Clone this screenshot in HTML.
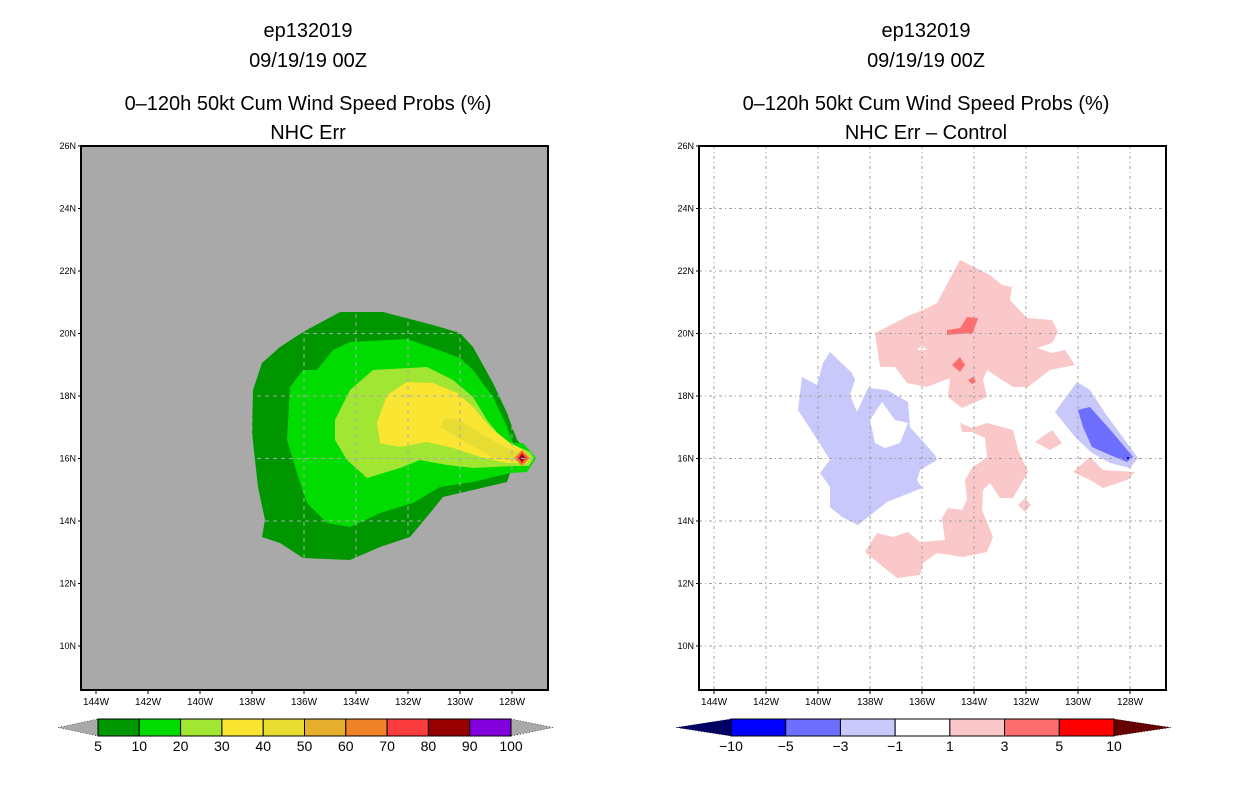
<!DOCTYPE html>
<html><head><meta charset="utf-8"><style>
html,body{margin:0;padding:0;background:#fff;}
svg{display:block;font-family:"Liberation Sans",sans-serif;}
</style></head><body>
<svg id="chart" width="1236" height="800" viewBox="0 0 1236 800">
<g id="left">
<text x="308" y="37" font-size="20" text-anchor="middle">ep132019</text>
<text x="308" y="67" font-size="20" text-anchor="middle">09/19/19 00Z</text>
<text x="308" y="110" font-size="20" text-anchor="middle">0–120h 50kt Cum Wind Speed Probs (%)</text>
<text x="308" y="139" font-size="20" text-anchor="middle">NHC Err</text>
<rect x="81" y="146" width="467" height="544" fill="#a9a9a9"/>
<g>
<polygon fill="#009600" points="340,312 383,312 433,325 460,333 473,347 493,383 507,413 517,440 533,457 527,470 510,473 507,482 473,490 443,497 430,513 410,537 380,547 350,560 303,558 280,543 262,537 265,520 258,487 252,433 253,390 262,363 280,347 303,332"/>
<polygon fill="#00dc00" points="350,342 407,339 433,348 460,358 473,370 493,397 507,427 513,443 523,443 536,458 527,472 510,473 473,482 440,487 413,503 380,513 350,527 327,523 307,503 297,473 287,440 290,387 303,370 317,370 333,350"/>
<polygon fill="#a0e632" points="373,370 427,367 453,380 473,397 487,420 503,440 530,452 534,458 529,466 513,466 473,468 447,465 420,460 400,468 367,478 347,460 335,440 335,420 350,390"/>
<polygon fill="#fae632" points="387,395 407,382 433,383 457,393 473,407 490,427 510,443 523,450 531,458 527,463 507,463 480,457 453,448 427,442 400,447 380,443 377,423"/>
<polygon fill="#e6dc32" points="445,418 460,420 480,433 507,448 523,453 528,458 523,463 493,458 467,443 440,427"/>
<polygon fill="#f08228" points="514,458 522,450 530,458 522,466"/>
<polygon fill="#fa3c3c" points="517,458 522,452 527,458 522,464"/>
<polygon fill="#960000" points="519,458 522,454 525,458 522,462"/>
<rect x="521" y="457" width="2" height="2" fill="#8200dc"/>
</g>
<g id="lgrid"></g>
<rect x="81" y="146" width="467" height="544" fill="none" stroke="#000" stroke-width="2"/>
<g id="laxis"></g>
<g id="lbar"></g>
</g>
<g id="right">
<text x="926" y="37" font-size="20" text-anchor="middle">ep132019</text>
<text x="926" y="67" font-size="20" text-anchor="middle">09/19/19 00Z</text>
<text x="926" y="110" font-size="20" text-anchor="middle">0–120h 50kt Cum Wind Speed Probs (%)</text>
<text x="926" y="139" font-size="20" text-anchor="middle">NHC Err – Control</text>
<rect x="699" y="146" width="467" height="544" fill="#fff"/>
<g>
<polygon fill="#fac8c8" points="960,260 990,275 1002,285 1012,287 1010,300 1027,318 1052,320 1058,332 1052,343 1037,348 1052,353 1065,350 1075,365 1050,370 1028,387 1013,387 987,370 983,380 987,397 962,408 948,397 950,378 927,387 907,383 895,367 880,367 875,333 887,327 910,315 923,310 937,303"/>
<polygon fill="#fff" points="917,350 922,345 927,350"/>
<polygon fill="#ff6e6e" points="947,330 960,328 967,317 978,318 973,333 947,335"/>
<polygon fill="#ff6e6e" points="952,365 960,357 965,365 960,372"/>
<polygon fill="#ff6e6e" points="968,380 973,377 976,382 972,384"/>
<path fill="#c8c8fa" fill-rule="evenodd" d="M830,352 852,373 855,380 850,395 857,412 868,388 887,390 908,402 910,427 935,455 937,460 920,470 917,480 922,488 887,502 858,525 842,517 830,507 830,487 820,473 830,460 813,433 798,410 802,377 817,385 823,363Z M870,420 882,402 895,420 908,423 900,443 885,448 875,443Z"/>
<polygon fill="#fac8c8" points="960,423 972,428 987,423 1013,430 1018,450 1028,472 1013,498 1000,498 990,483 983,490 982,510 993,537 987,552 963,557 937,553 923,563 920,575 897,578 865,552 877,533 893,537 908,532 920,542 945,540 942,518 948,508 962,510 967,500 965,480 972,468 987,457 985,438 972,432 962,432"/>
<polygon fill="#fac8c8" points="1035,442 1052,430 1062,443 1050,450"/>
<polygon fill="#fac8c8" points="1073,472 1090,457 1103,470 1135,472 1127,480 1103,488 1090,480"/>
<polygon fill="#fac8c8" points="1018,505 1025,498 1031,505 1025,512"/>
<polygon fill="#c8c8fa" points="1077,382 1090,390 1105,413 1127,443 1138,458 1130,468 1110,463 1092,453 1075,437 1055,412"/>
<polygon fill="#6e6eff" points="1078,410 1090,407 1113,433 1133,457 1127,462 1110,455 1092,447 1083,427"/>
<rect x="1127" y="457" width="3" height="2" fill="#0000ff"/>
</g>
<g id="rgrid"></g>
<rect x="699" y="146" width="467" height="544" fill="none" stroke="#000" stroke-width="2"/>
<g id="raxis"></g>
<g id="rbar"></g>
</g>
</svg>
<script>
const lonTicks = [144,142,140,138,136,134,132,130,128];
const latTicks = [26,24,22,20,18,16,14,12,10];
const probLevels = ["5","10","20","30","40","50","60","70","80","90","100"];
const probColors = ["#009600","#00dc00","#a0e632","#fae632","#e6dc32","#e6af2d","#f08228","#fa3c3c","#960000","#8200dc"];
const diffLevels = ["−10","−5","−3","−1","1","3","5","10"];
const diffColors = ["#0000ff","#6e6eff","#c8c8fa","#ffffff","#fac8c8","#ff6e6e","#ff0000"];
const NS="http://www.w3.org/2000/svg";
function el(tag,attrs,parent){const e=document.createElementNS(NS,tag);for(const k in attrs)e.setAttribute(k,attrs[k]);parent.appendChild(e);return e;}
function xOf(x0,lon){return x0+14+(144-lon)*26;}
function yOf(lat){return 146+(26-lat)*31.25;}
function drawPanel(x0,grid,axis,dash,gc){
  lonTicks.forEach(l=>{const x=xOf(x0,l);
    const g=el('line',{x1:x,x2:x,y1:146,y2:690,stroke:gc,'stroke-dasharray':dash,'stroke-width':1},grid);
    
    
    const t=el('text',{x:x,y:705,'font-size':10,'text-anchor':'middle'},axis);t.textContent=l+'W';
    
    
    const tk=el('line',{x1:x,x2:x,y1:690,y2:694,stroke:'#000'},axis);
    
    
  });
  latTicks.forEach(l=>{const y=yOf(l);
    const g=el('line',{x1:x0-1,x2:x0+466,y1:y,y2:y,stroke:gc,'stroke-dasharray':dash,'stroke-width':1},grid);
    
    
    const t=el('text',{x:x0-6,y:y+3,'font-size':9,'text-anchor':'end'},axis);t.textContent=l+'N';
    
    
    const tk=el('line',{x1:x0-4,x2:x0,y1:y,y2:y,stroke:'#000'},axis);
    
    
  });
}
drawPanel(82,document.getElementById('lgrid'),document.getElementById('laxis'),'4,4','#aaaaaa');
drawPanel(700,document.getElementById('rgrid'),document.getElementById('raxis'),'3,3,1,3','#a0a0a0');
function drawBar(g,tipL,bx0,bx1,tipR,cols,labels,endL,endR){
  const y0=719,y1=736,ym=727.5,w=(bx1-bx0)/cols.length;
  const a=el('polygon',{points:`${tipL},${ym} ${bx0},${y0} ${bx0},${y1}`,fill:endL,stroke:'#000','stroke-dasharray':'1,2','stroke-width':0.6},g);
  
  
  const b=el('polygon',{points:`${tipR},${ym} ${bx1},${y0} ${bx1},${y1}`,fill:endR,stroke:'#000','stroke-dasharray':'1,2','stroke-width':0.6},g);
  
  
  cols.forEach((c,i)=>{const r=el('rect',{x:bx0+i*w,y:y0,width:w,height:y1-y0,fill:c,stroke:'#000','stroke-width':1},g);
    
    });
  labels.forEach((s,i)=>{const t=el('text',{x:bx0+i*w,y:751,'font-size':14,'text-anchor':'middle'},g);t.textContent=s;
    
    });
}
drawBar(document.getElementById('lbar'),58,98,511,553,probColors,probLevels,'#a9a9a9','#a9a9a9');
drawBar(document.getElementById('rbar'),676,731,1114,1171,diffColors,diffLevels,'#000064','#640000');
</script>
</body></html>
